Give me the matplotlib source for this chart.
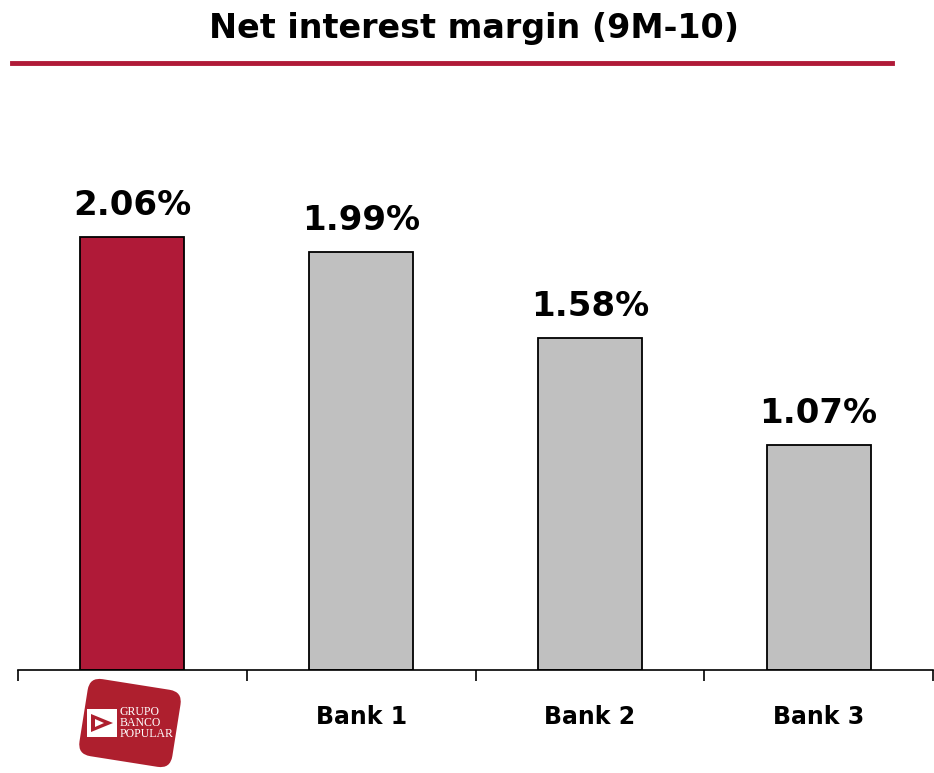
import matplotlib
matplotlib.use("Agg")
import matplotlib.pyplot as plt
from matplotlib.patches import FancyBboxPatch, Polygon, Rectangle
from matplotlib.lines import Line2D
import matplotlib.transforms as mtransforms

categories = ["", "Bank 1", "Bank 2", "Bank 3"]
values = [2.06, 1.99, 1.58, 1.07]
labels = ["2.06%", "1.99%", "1.58%", "1.07%"]
colors = ["#B01A38", "#C0C0C0", "#C0C0C0", "#C0C0C0"]

plt.rcParams['font.family'] = ['DejaVu Sans']

fig = plt.figure(figsize=(9.34, 7.73), dpi=100)

# title and red rule
fig.text(0.507, 0.963, "Net interest margin (9M-10)", ha='center', va='center',
         fontsize=24, fontweight='bold')
fig.add_artist(Line2D([12/934, 892/934], [1 - 63/773, 1 - 63/773],
                      color="#B01A38", lw=3.5, transform=fig.transFigure))

ax = fig.add_axes([18/934, 103/773, 915/934, 570/773])
x = range(len(values))
bars = ax.bar(x, values, width=0.455, color=colors, edgecolor='black', linewidth=1.3)
for b, lab in zip(bars, labels):
    ax.annotate(lab, (b.get_x() + b.get_width()/2, b.get_height()), xytext=(0, 11),
                textcoords='offset points', ha='center', va='bottom',
                fontsize=24.5, fontweight='bold')

ax.set_xlim(-0.5, 3.5)
ax.set_ylim(0, 570/210)
ax.set_yticks([])
for s in ['top', 'right', 'left']:
    ax.spines[s].set_visible(False)
ax.spines['bottom'].set_linewidth(1.2)
ax.set_xticks([-0.5, 0.5, 1.5, 2.5, 3.5])
ax.set_xticklabels([])
ax.tick_params(axis='x', direction='out', length=8, width=1.2)
ax.set_xticks(list(x), minor=True)
ax.set_xticklabels(categories, minor=True, fontsize=17, fontweight='bold')
ax.tick_params(axis='x', which='minor', length=0, pad=25)

# logo: rotated rounded red square with white mark and text (pixel coords)
lax = fig.add_axes([0, 0, 1, 1], zorder=-1)
lax.set_xlim(0, 934)
lax.set_ylim(773, 0)
lax.axis('off')
rot = mtransforms.Affine2D().rotate_deg_around(130, 723, 9) + lax.transData
lax.add_patch(FancyBboxPatch((83, 684), 94, 78, boxstyle="round,pad=0,rounding_size=13",
                             fc="#AE1F2E", ec='none', transform=rot))
lax.add_patch(Rectangle((87, 709), 30, 28, fc='white', ec='none'))
lax.add_patch(Polygon([[91, 714], [113, 723], [91, 732]], closed=True,
                      fc="#AE1F2E", ec='none'))
lax.add_patch(Polygon([[95, 719], [104, 723], [95, 727]], closed=True,
                      fc='white', ec='none'))
lax.text(120, 723, "GRUPO\nBANCO\nPOPULAR", color='white', fontsize=8.5,
         family='Liberation Serif', ha='left', va='center', linespacing=0.85)

fig.savefig("out.png", dpi=100)
